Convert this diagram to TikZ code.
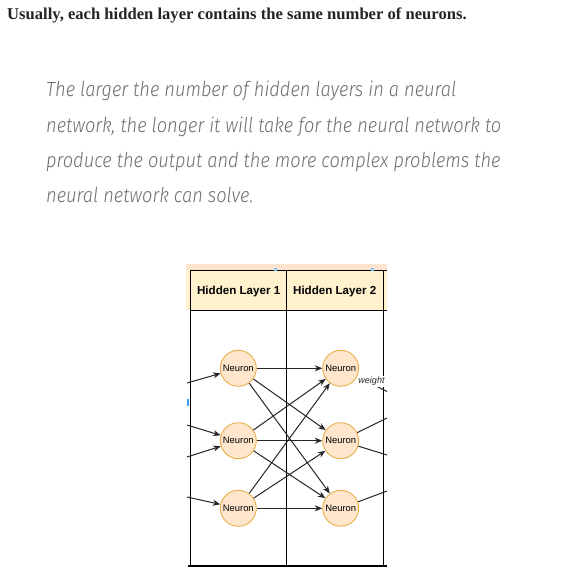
\documentclass[tikz,border=0pt]{standalone}
\usepackage{fontspec}
\usetikzlibrary{arrows.meta}
\setsansfont{Liberation Sans}
\newfontfamily\leadfont{Liberation Serif}
\newfontfamily\quotefont{Fira Sans}[ItalicFont={Fira Sans Light Italic},
    ItalicFeatures={FakeStretch=0.89}]
\definecolor{leadblack}{HTML}{242424}
\definecolor{quotegray}{HTML}{6E6E6E}
\definecolor{neuronfill}{HTML}{FFE6CC}
\definecolor{neuronline}{HTML}{E8B04A}
\definecolor{headfill}{HTML}{FFF2CC}
\definecolor{headtop}{HTML}{FCE4CF}
\definecolor{selblue}{HTML}{3D9BE9}
\definecolor{edgegray}{HTML}{262626}
\begin{document}
\begin{tikzpicture}[x=1pt,y=-1pt,
        neuron/.style={circle,draw=neuronline,fill=neuronfill,line width=0.9pt,
            minimum size=36pt,inner sep=0pt,font=\sffamily\fontsize{9.4}{9.4}\selectfont},
        arr/.style={-{Stealth[length=7.5pt,width=6pt]},draw=edgegray,line width=1pt},
        quoteline/.style={anchor=base west,inner sep=0pt,text=quotegray,
            font=\quotefont\itshape\fontsize{20.5}{20.5}\selectfont}]
\useasboundingbox[fill=white] (0,0) rectangle (563,575);

\node[anchor=base west,inner sep=0pt,text=leadblack,
    font=\leadfont\bfseries\fontsize{16.6}{16.6}\selectfont] (lead) at (7,20)
    {Usually, each hidden layer contains the same number of neurons.};

\node[quoteline] (q1) at (46,97) {The larger the number of hidden layers in a neural};
\node[quoteline] (q2) at (46,132) {network, the longer it will take for the neural network to};
\node[quoteline] (q3) at (46,167) {produce the output and the more complex problems the};
\node[quoteline] (q4) at (46,202) {neural network can solve.};

% table
\fill[headfill] (186,264) rectangle (387,310);
\fill[headtop] (186,264) rectangle (387,270);
\draw[line width=1pt] (190.5,270) -- (387,270);
\draw[line width=1pt] (190.5,310) -- (387,310);
\draw[line width=1pt] (190.5,270) -- (190.5,566);
\draw[line width=1pt] (286.5,270) -- (286.5,566);
\draw[line width=1pt] (383,270) -- (383,566);
\draw[line width=2pt] (188,566) -- (387,566);
\fill[selblue!60] (273.5,267.5) rectangle (276.5,270.5);
\fill[selblue!60] (370.5,267.5) rectangle (373.5,270.5);
\fill[selblue] (187.3,399) rectangle (188.8,405.5);

\node[font=\sffamily\bfseries\fontsize{11.6}{11.6}\selectfont] (head1) at (238.7,291) {Hidden Layer 1};
\node[font=\sffamily\bfseries\fontsize{11.6}{11.6}\selectfont] (head2) at (334.7,291) {Hidden Layer 2};

\node[neuron] (h1a) at (238.3,368.3) {Neuron};
\node[neuron] (h1b) at (238.3,440.7) {Neuron};
\node[neuron] (h1c) at (238.3,508.3) {Neuron};
\node[neuron] (h2a) at (340.7,368.3) {Neuron};
\node[neuron] (h2b) at (340.7,440.7) {Neuron};
\node[neuron] (h2c) at (340.7,508.3) {Neuron};

\coordinate (in1) at (187,383);
\coordinate (in2) at (187,425);
\coordinate (in3) at (187,457);
\coordinate (in4) at (187,497);
\coordinate (out1) at (387,391.5);
\coordinate (out2) at (387,418);
\coordinate (out3) at (387,455);
\coordinate (out4) at (387,491);

\draw[arr] (in1) -- (h1a);
\draw[arr] (in2) -- (h1b);
\draw[arr] (in3) -- (h1b);
\draw[arr] (in4) -- (h1c);

\draw[arr] (h1a) -- (h2a);
\draw[arr] (h1a) -- (h2b);
\draw[arr] (h1a) -- (h2c);
\draw[arr] (h1b) -- (h2a);
\draw[arr] (h1b) -- (h2b);
\draw[arr] (h1b) -- (h2c);
\draw[arr] (h1c) -- (h2a);
\draw[arr] (h1c) -- (h2b);
\draw[arr] (h1c) -- (h2c);

\draw[edgegray,line width=1pt] (h2a) -- (out1);
\draw[edgegray,line width=1pt] (h2b) -- (out2);
\draw[edgegray,line width=1pt] (h2b) -- (out3);
\draw[edgegray,line width=1pt] (h2c) -- (out4);

\node[fill=white,inner sep=1pt,text=edgegray,
    font=\sffamily\itshape\fontsize{9}{9}\selectfont] (wlabel) at (371.5,381.5) {weight};
\end{tikzpicture}
\end{document}
